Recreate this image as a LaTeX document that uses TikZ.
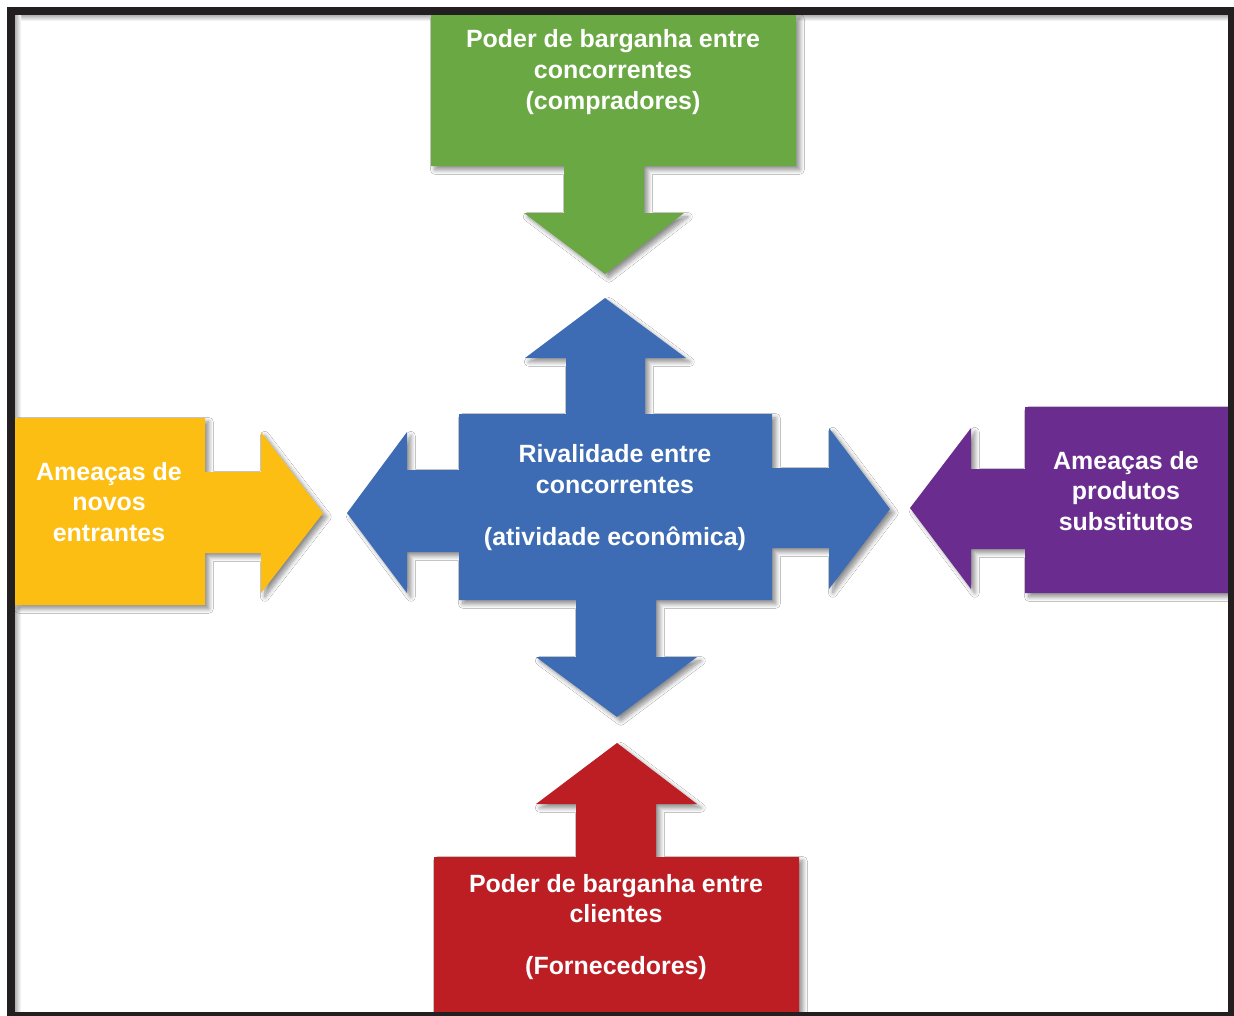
\documentclass[tikz,border=0pt]{standalone}
\usepackage{fontspec}
\setmainfont{Liberation Sans}
\usepackage{tikz}
\usetikzlibrary{shadows.blur}

\definecolor{moldura}{HTML}{231F20}
\definecolor{verde}{HTML}{6AA843}
\definecolor{azul}{HTML}{3D6CB4}
\definecolor{amarelo}{HTML}{FDBE14}
\definecolor{roxo}{HTML}{6A2C8E}
\definecolor{vermelho}{HTML}{BC1E24}

\begin{document}
\begin{tikzpicture}[
  x=0.02cm, y=-0.02cm,
  forca/.style={blur shadow={shadow xshift=2.2pt,shadow yshift=-2.2pt,shadow blur steps=8,shadow blur radius=2.5pt,shadow opacity=45}},
  rotulo/.style={align=center,text=white,inner sep=0pt,font=\bfseries\fontsize{14.2}{17.6}\selectfont}
]
  \useasboundingbox (0,0) rectangle (1234,1015);
  % moldura
  \fill[moldura] (7,7) rectangle (1245,1025);
  \fill[white] (15,15) rectangle (1228,1012);
  \shade[top color=black!30,bottom color=white] (15,15) rectangle (1228,21);
  \shade[left color=black!30,right color=white] (15,15) rectangle (21,1012);

  % compradores (verde)
  \fill[verde,forca] (431,15) -- (796,15) -- (796,166) -- (644,166) -- (644,213)
    -- (684,213) -- (605,274) -- (524,213) -- (564,213) -- (564,166) -- (431,166) -- cycle;
  % novos entrantes (amarelo)
  \fill[amarelo,forca] (15,418) -- (205,418) -- (205,472) -- (261,472) -- (261,432)
    -- (323,513) -- (261,593) -- (261,553) -- (205,553) -- (205,605) -- (15,605) -- cycle;
  % substitutos (roxo)
  \fill[roxo,forca] (1228,407) -- (1025,407) -- (1025,469) -- (971,469) -- (971,428)
    -- (910,508) -- (971,589) -- (971,549) -- (1025,549) -- (1025,593) -- (1228,593) -- cycle;
  % fornecedores (vermelho)
  \fill[vermelho,forca] (434,1012) -- (434,857) -- (576,857) -- (576,804) -- (536,804)
    -- (617,743) -- (697,804) -- (656,804) -- (656,857) -- (799,857) -- (799,1012) -- cycle;
  % rivalidade (azul)
  \fill[azul,forca] (459,414) -- (566,414) -- (566,358) -- (525,358) -- (605,298)
    -- (686,358) -- (645,358) -- (645,414) -- (772,414) -- (772,468) -- (829,468)
    -- (829,428) -- (890,509) -- (829,589) -- (829,548) -- (772,548) -- (772,600)
    -- (656,600) -- (656,657) -- (697,657) -- (617,717) -- (536,657) -- (576,657)
    -- (576,600) -- (459,600) -- (459,552) -- (407,552) -- (407,593) -- (347,513)
    -- (407,432) -- (407,470) -- (459,470) -- cycle;
  % moldura por cima das bordas
  \fill[moldura] (1228,7) rectangle (1245,1025);
  \fill[moldura] (7,1012) rectangle (1245,1025);

  \node[rotulo] (tcomp) at (613,72) {Poder de barganha entre\\concorrentes\\(compradores)};
  \node[rotulo] (tent) at (109,502) {Amea\c{c}as de\\novos\\entrantes};
  \node[rotulo] (tsubst) at (1126,491) {Amea\c{c}as de\\produtos\\substitutos};
  \node[rotulo] (trival) at (615,498) {Rivalidade entre\\concorrentes\\[12pt](atividade econ\^omica)};
  \node[rotulo] (tforn) at (616,927) {Poder de barganha entre\\clientes\\[12pt](Fornecedores)};
\end{tikzpicture}
\end{document}
